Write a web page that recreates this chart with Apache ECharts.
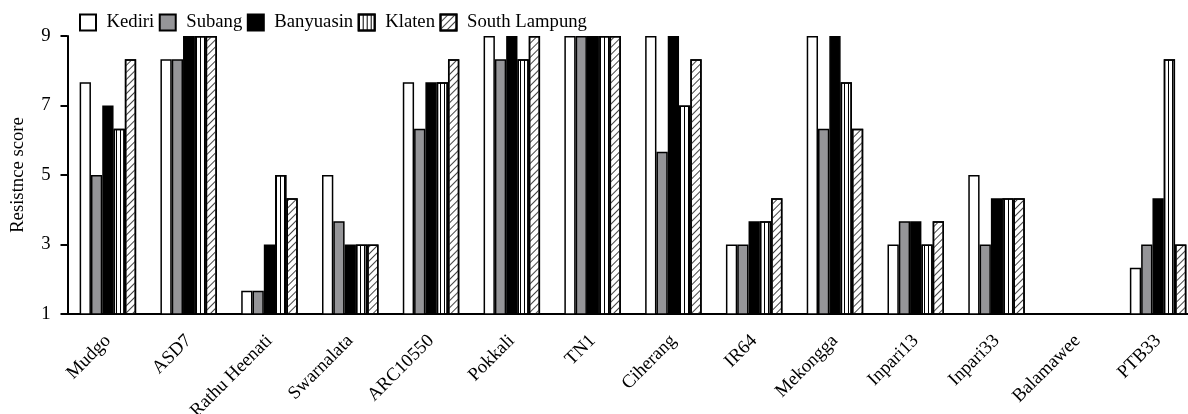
<!DOCTYPE html>
<html><head><meta charset="utf-8">
<script src="https://cdn.jsdelivr.net/npm/echarts@6/dist/echarts.min.js"></script>
<style>html,body{margin:0;padding:0;background:#fff}#c{width:1188px;height:414px}</style>
</head><body><div id="c"></div>
<script>
const categories = ['Mudgo','ASD7','Rathu Heenati','Swarnalata','ARC10550','Pokkali','TN1','Ciherang','IR64','Mekongga','Inpari13','Inpari33','Balamawee','PTB33'];
const kediri      = [7.67, 8.33, 1.67, 5.00, 7.67, 9.00, 9.00, 9.00, 3.00, 9.00, 3.00, 5.00, 1.00, 2.33];
const subang      = [5.00, 8.33, 1.67, 3.67, 6.33, 8.33, 9.00, 5.67, 3.00, 6.33, 3.67, 3.00, 1.00, 3.00];
const banyuasin   = [7.00, 9.00, 3.00, 3.00, 7.67, 9.00, 9.00, 9.00, 3.67, 9.00, 3.67, 4.33, 1.00, 4.33];
const klaten      = [6.33, 9.00, 5.00, 3.00, 7.67, 8.33, 9.00, 7.00, 3.67, 7.67, 3.00, 4.33, 1.00, 8.33];
const southLampung= [8.33, 9.00, 4.33, 3.00, 8.33, 9.00, 9.00, 8.33, 4.33, 6.33, 3.67, 4.33, 1.00, 3.00];
const yTicks = [1, 3, 5, 7, 9];

const font = 'Liberation Serif';
const fs = 18.7;
const border = {borderColor:'#000', borderWidth:1.5};
function mk(name, data, style){
  return {name, type:'bar', data, barWidth:11.3, barGap:'0%', itemStyle:Object.assign({}, border, style), emphasis:{disabled:true}};
}
const chart = echarts.init(document.getElementById('c'), null, {renderer:'canvas'});
chart.setOption({
  animation:false,
  backgroundColor:'#fff',
  legend:{left:74, top:8, itemWidth:16, itemHeight:16, itemGap:4.5, icon:'rect',
    textStyle:{fontFamily:font, fontSize:fs, color:'#000', padding:[0,0,0,5.5]},
    data:['Kediri','Subang','Banyuasin','Klaten','South Lampung']},
  grid:{left:67.5, right:-10.5, top:36, bottom:100, containLabel:false, outerBoundsMode:'none'},
  xAxis:{type:'category', data:categories,
    axisLine:{lineStyle:{color:'#000', width:2}},
    axisTick:{alignWithLabel:true, length:7, lineStyle:{color:'#000', width:2}},
    axisLabel:{rotate:45, margin:24, fontFamily:font, fontSize:fs, color:'#000', interval:0}},
  yAxis:{type:'value', min:1, max:9, interval:2, name:'Resistnce score', nameLocation:'middle', nameGap:40,
    nameTextStyle:{fontFamily:font, fontSize:fs, color:'#000'},
    axisLine:{show:true, lineStyle:{color:'#000', width:2}},
    axisTick:{show:true, length:7, lineStyle:{color:'#000', width:2}},
    axisLabel:{margin:17, fontFamily:font, fontSize:fs, color:'#000',
      formatter:v => yTicks.includes(v) ? String(v) : ''},
    splitLine:{show:false}},
  series:[
    mk('Kediri', kediri, {color:'#fff'}),
    mk('Subang', subang, {color:'#959598'}),
    mk('Banyuasin', banyuasin, {color:'#000'}),
    mk('Klaten', klaten, {color:'#fff', decal:{symbol:'rect', symbolSize:1, color:'#000', dashArrayX:[1,3], dashArrayY:[1,0]}}),
    mk('South Lampung', southLampung, {color:'#fff', decal:{symbol:'rect', symbolSize:1, color:'#444', dashArrayX:[1,0], dashArrayY:[1,4], rotation:-Math.PI/4}})
  ]
});
</script></body></html>
